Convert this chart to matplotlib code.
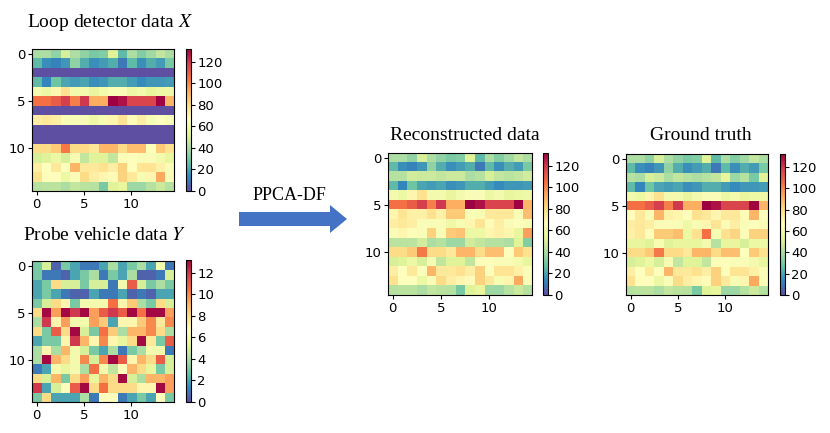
import numpy as np
import matplotlib
matplotlib.use("Agg")
import matplotlib.pyplot as plt
import matplotlib.patches as mpatches

# ground truth speed matrix (15 x 15)
ground_truth = np.array([
    [40, 40, 35, 50, 40, 35, 30, 32, 52, 25, 40, 32, 38, 45, 40],
    [25, 15, 12, 17, 35, 22, 15, 18, 22, 10, 25, 15, 22, 18, 30],
    [42, 40, 50, 47, 40, 45, 42, 40, 42, 45, 55, 37, 42, 30, 52],
    [25, 13, 28, 20, 18, 20, 15, 17, 22, 22, 18, 14, 17, 17, 18],
    [60, 57, 70, 78, 60, 60, 55, 60, 63, 63, 57, 60, 55, 57, 58],
    [105, 105, 110, 118, 102, 120, 92, 92, 132, 128, 117, 117, 117, 131, 90],
    [67, 75, 63, 90, 72, 70, 65, 78, 75, 70, 75, 75, 68, 90, 66],
    [73, 75, 73, 63, 63, 63, 58, 62, 70, 77, 68, 73, 63, 65, 63],
    [72, 75, 67, 85, 85, 88, 57, 78, 105, 62, 78, 82, 68, 83, 83],
    [55, 55, 52, 62, 52, 55, 55, 55, 60, 42, 55, 55, 50, 57, 57],
    [80, 80, 85, 103, 80, 80, 75, 90, 90, 80, 88, 88, 65, 85, 78],
    [50, 52, 57, 50, 62, 45, 52, 52, 45, 64, 65, 63, 63, 60, 55],
    [73, 66, 75, 65, 90, 75, 75, 78, 73, 83, 65, 77, 77, 72, 63],
    [78, 67, 67, 57, 63, 80, 73, 70, 68, 83, 75, 62, 70, 93, 63],
    [42, 43, 43, 40, 45, 43, 42, 30, 52, 55, 37, 37, 42, 47, 42],
])

# rows the loop detectors did not observe
missing_rows = [2, 6, 8, 9]

reconstructed = np.array([
    [40, 40, 35, 50, 40, 35, 30, 32, 52, 25, 40, 32, 38, 45, 40],
    [25, 15, 12, 17, 35, 22, 15, 18, 22, 10, 25, 15, 22, 18, 30],
    [42, 42, 48, 47, 47, 45, 47, 47, 40, 42, 50, 45, 43, 45, 48],
    [25, 13, 28, 20, 18, 20, 15, 17, 22, 22, 18, 14, 17, 17, 18],
    [60, 57, 70, 78, 60, 60, 55, 60, 63, 63, 57, 60, 55, 57, 58],
    [105, 105, 110, 118, 102, 120, 92, 92, 132, 128, 117, 117, 117, 131, 90],
    [70, 77, 72, 72, 78, 72, 85, 85, 63, 62, 75, 75, 75, 63, 88],
    [73, 75, 73, 63, 63, 63, 58, 62, 70, 77, 68, 73, 63, 65, 63],
    [63, 70, 64, 63, 83, 63, 85, 87, 57, 57, 70, 72, 70, 55, 95],
    [43, 43, 43, 48, 40, 42, 37, 37, 48, 45, 42, 42, 40, 52, 32],
    [80, 80, 85, 103, 80, 80, 75, 90, 90, 80, 88, 88, 65, 85, 78],
    [50, 52, 57, 50, 62, 45, 52, 52, 45, 64, 65, 63, 63, 60, 55],
    [73, 66, 75, 65, 90, 75, 75, 78, 73, 83, 65, 77, 77, 72, 63],
    [78, 67, 67, 57, 63, 80, 73, 70, 68, 83, 75, 62, 70, 93, 63],
    [42, 43, 43, 40, 45, 43, 42, 30, 52, 55, 37, 37, 42, 47, 42],
])

probe = np.array([
    [3, 5, 0.5, 3, 2, 1, 1, 2, 4, 2, 3, 4, 2, 6, 1],
    [3, 1, 1, 0.5, 2, 3, 4, 1, 3, 2, 4, 0.5, 0.5, 1, 5],
    [2, 3, 8, 5, 5, 3, 5, 5, 1, 6, 11, 5, 3, 4, 3],
    [2, 3, 2, 1, 0.5, 0.5, 2, 1, 1, 2, 0.5, 1, 0.5, 2, 2],
    [3, 5, 8, 7, 3, 6, 6, 6, 10.5, 7, 8.5, 4, 3, 8, 5],
    [8, 13, 9.5, 13, 12, 13, 9.5, 11, 12, 11, 13, 10.5, 13, 13, 9.5],
    [4, 12, 7, 9.5, 6, 6, 9.5, 8.5, 2, 7, 7, 8.5, 10, 7.5, 10],
    [8, 3, 11, 8, 13, 5, 3, 10.5, 8.5, 4, 9, 9, 10, 8, 4],
    [2, 3, 3, 7, 12, 9, 7, 10, 7, 5.5, 8, 13, 7.5, 3, 11],
    [4, 7, 4, 9, 6, 5, 3, 2, 4, 1, 3, 4, 6, 6, 1],
    [4, 13, 9, 8, 6, 10, 5, 10, 13, 11, 7, 9, 8, 11, 5],
    [1, 2, 6, 5.5, 6, 4, 10.5, 6, 4.5, 6.5, 9, 8, 5.5, 3, 5],
    [8, 5, 9, 3, 8, 9.5, 5.5, 9, 8, 13, 5, 4, 9, 9, 9.5],
    [12, 2, 5, 6.5, 11, 13, 8, 10.5, 8, 8, 8, 7, 7, 13, 9.5],
    [3, 8, 2, 2, 2, 4, 1, 6.5, 6.5, 1, 2, 3, 2, 6.5, 3],
])

loop = ground_truth.copy()
loop[missing_rows, :] = 0

speed_max = 132
probe_max = 13.2

plt.rcParams['mathtext.fontset'] = 'stix'
title_font = dict(family='Liberation Serif', size=14)

W, H = 830, 433
fig = plt.figure(figsize=(8.3, 4.33), dpi=100)


def px_axes(x0, y0, x1, y1):
    # axes from pixel box (top-left origin)
    return fig.add_axes([x0 / W, 1 - y1 / H, (x1 - x0) / W, (y1 - y0) / H])


def heatmap(data, box, cbox, vmax, cticks):
    ax = px_axes(*box)
    im = ax.imshow(data, cmap='Spectral_r', vmin=0, vmax=vmax,
                   interpolation='nearest', aspect='auto')
    ax.set_xticks([0, 5, 10])
    ax.set_yticks([0, 5, 10])
    ax.tick_params(labelsize=9.5, length=3, pad=2)
    cax = px_axes(*cbox)
    cb = fig.colorbar(im, cax=cax)
    cb.set_ticks(cticks)
    cb.ax.tick_params(labelsize=9.5, length=3, pad=1.5)
    cb.outline.set_linewidth(0.8)
    return ax


heatmap(loop, (32, 49, 174, 191), (186, 49, 191, 191), speed_max, range(0, 121, 20))
heatmap(probe, (32, 261, 174, 402), (186, 260, 191, 402), probe_max, range(0, 13, 2))
heatmap(reconstructed, (388, 153, 532, 295), (543, 153, 548, 295), speed_max, range(0, 121, 20))
heatmap(ground_truth, (626, 154, 768, 295), (780, 154, 785, 295), speed_max, range(0, 121, 20))

fig.text(110 / W, 1 - 27 / H, 'Loop detector data $X$', ha='center', va='baseline', **title_font)
fig.text(105 / W, 1 - 240 / H, 'Probe vehicle data $Y$', ha='center', va='baseline', **title_font)
fig.text(465 / W, 1 - 140 / H, 'Reconstructed data', ha='center', va='baseline', **title_font)
fig.text(701 / W, 1 - 140 / H, 'Ground truth', ha='center', va='baseline', **title_font)
fig.text(289 / W, 1 - 200 / H, 'PPCA-DF', ha='center', va='baseline', family='Liberation Serif', size=13)

# arrow in pixel coordinates
over = fig.add_axes([0, 0, 1, 1])
over.set_xlim(0, W)
over.set_ylim(H, 0)
over.axis('off')
over.add_patch(mpatches.FancyArrow(239, 219, 108, 0, width=14, head_width=28,
                                   head_length=17, length_includes_head=True,
                                   color='#4472C4', lw=0))

fig.savefig('out.png', dpi=100)
